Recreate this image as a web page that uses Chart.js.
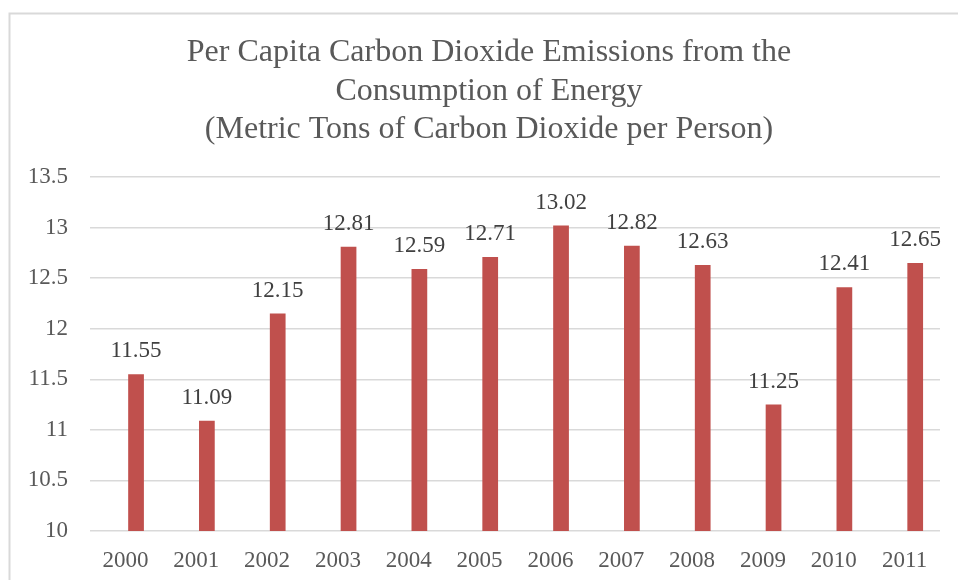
<!DOCTYPE html>
<html>
<head>
<meta charset="utf-8">
<script src="https://cdn.jsdelivr.net/npm/chart.js@4.4.1/dist/chart.umd.min.js"></script>
<style>
  html, body { margin: 0; padding: 0; background: #ffffff; }
  #wrap { position: relative; width: 958px; height: 580px; }
</style>
</head>
<body>
<div id="wrap"><canvas id="chart" width="958" height="580"></canvas></div>
<script>
// Per capita CO2 emissions from energy consumption, metric tons per person
const years = ['2000', '2001', '2002', '2003', '2004', '2005', '2006', '2007', '2008', '2009', '2010', '2011'];
const emissions = [11.55, 11.09, 12.15, 12.81, 12.59, 12.71, 13.02, 12.82, 12.63, 11.25, 12.41, 12.65];
const titleLines = [
  'Per Capita Carbon Dioxide Emissions from the',
  'Consumption of Energy',
  '(Metric Tons of Carbon Dioxide per Person)'
];
const yTicks = { min: 10, max: 13.5, step: 0.5 };

const SERIF = '"Liberation Serif", "DejaVu Serif", serif';
const emptySeries = years.map(() => null);

// Light frame around the chart
const framePlugin = {
  id: 'frame',
  beforeDraw(chart) {
    const ctx = chart.ctx;
    ctx.save();
    ctx.strokeStyle = '#d9d9d9';
    ctx.lineWidth = 2;
    ctx.beginPath();
    ctx.moveTo(9.5, chart.height + 2);
    ctx.lineTo(9.5, 13.5);
    ctx.lineTo(chart.width + 2, 13.5);
    ctx.stroke();
    ctx.restore();
  }
};

// Three-line heading, centred on the frame
const headingPlugin = {
  id: 'heading',
  afterDraw(chart) {
    const ctx = chart.ctx;
    ctx.save();
    ctx.font = '32px ' + SERIF;
    ctx.fillStyle = '#595959';
    ctx.textAlign = 'center';
    ctx.textBaseline = 'middle';
    titleLines.forEach((line, i) => {
      ctx.fillText(line, 489, 53 + i * 38.5);
    });
    ctx.restore();
  }
};

// Value labels above each bar
const valueLabels = {
  id: 'valueLabels',
  afterDatasetsDraw(chart) {
    const ctx = chart.ctx;
    const meta = chart.getDatasetMeta(1);
    ctx.save();
    ctx.font = '23px ' + SERIF;
    ctx.fillStyle = '#404040';
    ctx.textAlign = 'center';
    ctx.textBaseline = 'alphabetic';
    meta.data.forEach((bar, i) => {
      const v = chart.data.datasets[1].data[i];
      if (v == null) return;
      ctx.fillText(v.toFixed(2), bar.x, bar.y - 17);
    });
    ctx.restore();
  }
};

function build() {
  new Chart(document.getElementById('chart'), {
    type: 'bar',
    data: {
      labels: years,
      datasets: [
        { label: '', data: emptySeries, backgroundColor: 'rgba(0,0,0,0)' },
        {
          label: 'Emissions',
          data: emissions,
          backgroundColor: '#c0504d',
          borderWidth: 0
        }
      ]
    },
    options: {
      responsive: false,
      animation: false,
      devicePixelRatio: 1,
      categoryPercentage: 0.6,
      barPercentage: 0.74,
      layout: { padding: { left: 0, right: 18, top: 177, bottom: 0 } },
      plugins: {
        legend: { display: false },
        tooltip: { enabled: false },
        title: { display: false }
      },
      scales: {
        x: {
          grid: { display: false, drawTicks: false },
          border: { display: false },
          ticks: {
            color: '#595959',
            font: { family: SERIF, size: 23 },
            padding: 16,
            maxRotation: 0,
            autoSkip: false
          },
          afterFit(scale) { scale.height = 49; }
        },
        y: {
          min: yTicks.min,
          max: yTicks.max,
          grid: { color: '#d9d9d9', lineWidth: 1.5, drawTicks: false },
          border: { display: false },
          ticks: {
            stepSize: yTicks.step,
            color: '#595959',
            font: { family: SERIF, size: 23 },
            padding: 22,
            callback: (v) => String(Math.round(v * 10) / 10)
          },
          afterFit(scale) { scale.width = 90; }
        }
      }
    },
    plugins: [framePlugin, valueLabels, headingPlugin]
  });
}

if (document.fonts && document.fonts.load) {
  Promise.all([
    document.fonts.load('23px "Liberation Serif"'),
    document.fonts.load('32px "Liberation Serif"')
  ]).then(build, build);
} else {
  build();
}
</script>
</body>
</html>
